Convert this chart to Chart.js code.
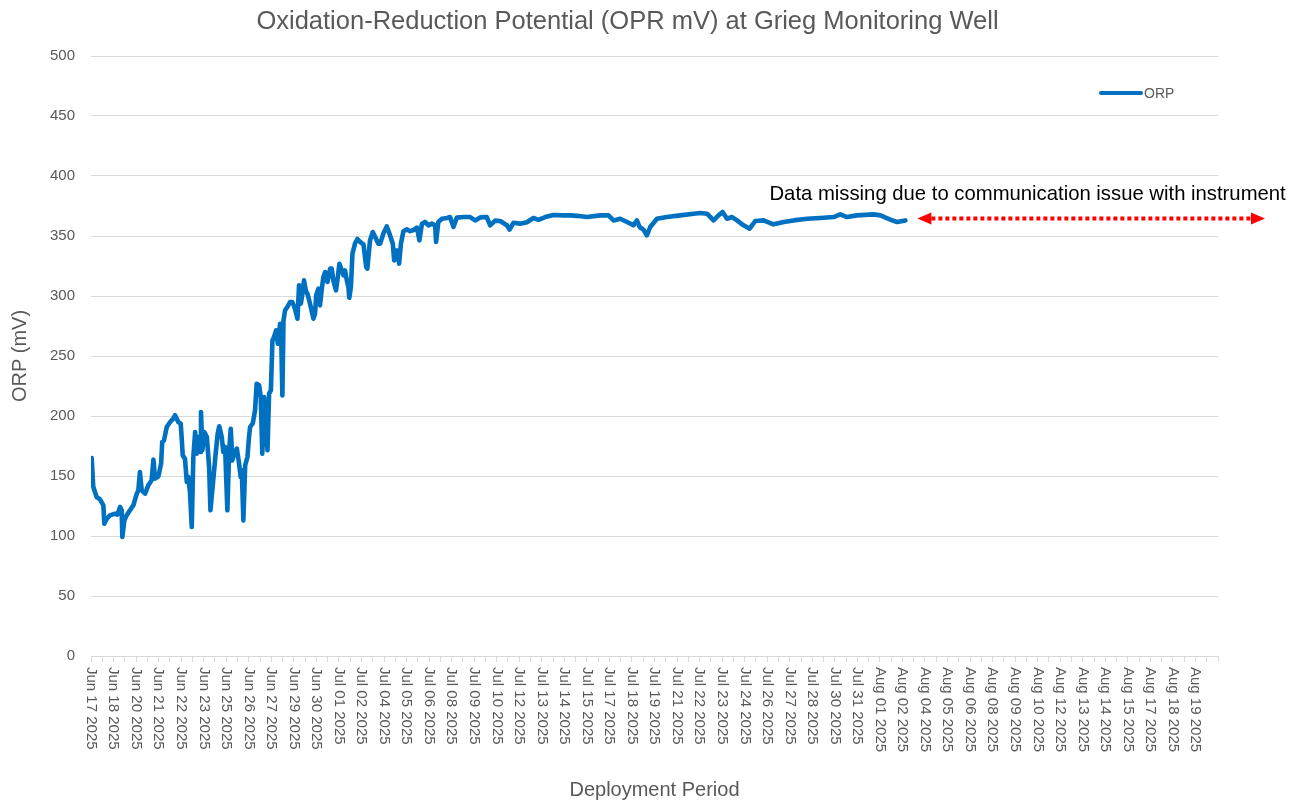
<!DOCTYPE html>
<html>
<head>
<meta charset="utf-8">
<script src="https://cdn.jsdelivr.net/npm/chart.js@4.4.1/dist/chart.umd.min.js"></script>
<style>
  html, body { margin: 0; padding: 0; background: #ffffff; }
  #wrap { width: 1299px; height: 804px; }
</style>
</head>
<body>
<div id="wrap"><canvas id="c" width="1299" height="804"></canvas></div>
<script>
// ---- Data ----
const chartTitle = 'Oxidation-Reduction Potential (OPR mV) at Grieg Monitoring Well';
const seriesName = 'ORP';
const yAxisTitle = 'ORP (mV)';
const xAxisTitle = 'Deployment Period';
const noteText = 'Data missing due to communication issue with instrument';

// category tick labels (one per major tick of the category axis)
const dateLabels = [
  'Jun 17 2025','Jun 18 2025','Jun 20 2025','Jun 21 2025','Jun 22 2025','Jun 23 2025',
  'Jun 25 2025','Jun 26 2025','Jun 27 2025','Jun 29 2025','Jun 30 2025','Jul 01 2025',
  'Jul 02 2025','Jul 04 2025','Jul 05 2025','Jul 06 2025','Jul 08 2025','Jul 09 2025',
  'Jul 10 2025','Jul 12 2025','Jul 13 2025','Jul 14 2025','Jul 15 2025','Jul 17 2025',
  'Jul 18 2025','Jul 19 2025','Jul 21 2025','Jul 22 2025','Jul 23 2025','Jul 24 2025',
  'Jul 26 2025','Jul 27 2025','Jul 28 2025','Jul 30 2025','Jul 31 2025','Aug 01 2025',
  'Aug 02 2025','Aug 04 2025','Aug 05 2025','Aug 06 2025','Aug 08 2025','Aug 09 2025',
  'Aug 10 2025','Aug 12 2025','Aug 13 2025','Aug 14 2025','Aug 15 2025','Aug 17 2025',
  'Aug 18 2025','Aug 19 2025'
];

// sample position along the category axis (1 unit = one labelled tick interval)
const samplePos = [
  0.03,0.10,0.25,0.40,0.55,0.59,0.70,0.84,1.07,1.17,1.29,1.36,1.39,1.48,1.58,1.73,1.88,2.03,2.10,2.17,
  2.25,2.40,2.54,2.69,2.77,2.84,2.99,3.11,3.16,3.24,3.36,3.51,3.65,3.73,3.87,3.98,4.03,4.07,4.17,4.25,
  4.32,4.39,4.47,4.54,4.62,4.69,4.76,4.84,4.88,4.94,5.03,5.14,5.24,5.30,5.43,5.53,5.62,5.69,5.80,5.87,
  5.95,6.05,6.13,6.20,6.27,6.36,6.47,6.57,6.64,6.69,6.76,6.84,6.94,7.01,7.06,7.18,7.28,7.35,7.46,7.53,
  7.60,7.68,7.75,7.83,7.90,7.98,8.05,8.12,8.21,8.29,8.39,8.43,8.49,8.54,8.61,8.71,8.83,8.93,9.05,9.16,
  9.23,9.31,9.38,9.45,9.53,9.60,9.68,9.75,9.87,9.94,9.99,10.09,10.16,10.24,10.31,10.39,10.49,10.61,10.68,10.75,
  10.87,10.95,11.02,11.10,11.20,11.27,11.35,11.42,11.46,11.53,11.60,11.72,11.82,11.94,12.09,12.21,12.26,12.38,12.50,12.61,
  12.75,12.83,12.97,13.12,13.24,13.39,13.45,13.57,13.67,13.75,13.86,14.01,14.16,14.31,14.46,14.57,14.68,14.82,14.97,15.12,
  15.27,15.31,15.41,15.57,15.79,15.93,16.08,16.23,16.52,16.82,17.04,17.27,17.56,17.71,17.93,18.15,18.45,18.57,18.74,19.04,
  19.34,19.63,19.85,20.15,20.52,20.96,21.26,21.56,22.00,22.59,22.96,23.18,23.48,23.78,24.07,24.22,24.34,24.51,24.66,24.81,
  25.11,25.55,26.14,26.73,27.03,27.33,27.62,27.84,28.02,28.22,28.44,28.66,28.95,29.22,29.47,29.84,30.28,30.73,31.17,31.77,
  32.36,32.95,33.24,33.54,33.98,34.72,35.02,35.46,35.76,36.13
];

// ORP readings (mV)
const orpValues = [
  165,141,132.5,130.5,125.6,110.3,114.4,117.2,118.6,117.8,124.2,121.4,99.2,113,117.2,121.4,125.6,135.3,138,153.3,
  138,135.3,142.2,146.4,163.6,147.8,149.7,160.3,178.3,179.7,190.8,195,197.8,200.6,195,193.6,179.7,167.2,164.4,145,
  149.2,136.7,107.5,165.8,186.7,168.6,182.5,170,203.3,171.4,186.7,182.5,157.5,121.4,147.8,168.6,185.3,191.4,182.5,170,
  174.2,121.4,171.4,189.4,163,168.6,172.8,160.3,149.2,154.7,113,158.9,165.8,182.5,190.8,194,205,226.9,225.6,215.8,
  168.6,215.8,193.6,171.4,218.6,221.4,263,265.8,271.4,260.3,276.9,274.2,217.2,279.7,288,290.8,295,295,289.4,281.1,
  308.9,293.6,301.9,313,304.7,301.9,296.4,290.8,281.1,285.3,300.6,306.1,292.2,306.1,315.8,320,311.7,322.8,322.8,313,
  304.7,315.8,326.9,322.8,317.2,321.4,313,307.5,298.5,307.5,335.3,344,347.5,345,343,324,322.8,346.4,353.3,349.2,
  343.6,343.6,352,358,352,343.6,329.7,338,327,343.6,354,355.5,354,355,357,346.4,360,361.7,358.9,360.3,
  358.9,345,361.7,364.4,365,365.8,357.5,365.3,365.8,365.8,363,365.5,365.8,358.9,362.8,362.5,359,355.3,361,360.3,
  361.5,365,363.5,365.8,367.5,367.2,367.2,366.8,365.8,367.2,367.2,363,364.4,361.7,358.9,363,357.5,355.3,350.6,357.5,
  364.4,365.8,367.2,368.6,369.2,368.6,363,367.2,370,364.4,365.8,363,358.9,356.1,362.5,363,359.7,361.7,363,364.4,
  365,365.8,368,365.8,367.2,368,367.2,363.6,361.7,363
];

const yTicks = { min: 0, max: 500, step: 50 };
const xRange = { min: 0, max: 50, minorStep: 0.5 };

// ---- Styles ----
const BLUE = '#0070C0';
const GREY_TEXT = '#595959';
const GRID = '#d9d9d9';
const FONT = "'Liberation Sans', Arial, sans-serif";

const points = samplePos.map((p, i) => ({ x: p, y: orpValues[i] }));

// draws the category labels rotated clockwise (reading top-to-bottom) under each major tick
const xLabelPlugin = {
  id: 'xLabels',
  afterDraw(chart) {
    const s = chart.scales.x;
    const ctx = chart.ctx;
    ctx.save();
    ctx.font = '15px ' + FONT;
    ctx.fillStyle = GREY_TEXT;
    ctx.textAlign = 'left';
    ctx.textBaseline = 'middle';
    dateLabels.forEach((lab, k) => {
      const px = s.getPixelForValue(k);
      ctx.save();
      ctx.translate(px, s.top + 11);
      ctx.rotate(Math.PI / 2);
      ctx.fillText(lab, 0, 0);
      ctx.restore();
    });
    ctx.restore();
  }
};

const legendNotePlugin = {
  id: 'legendNote',
  afterDraw(chart) {
    const ctx = chart.ctx;
    const a = chart.chartArea;
    const s = chart.scales.x;
    const ys = chart.scales.y;
    ctx.save();
    // legend
    const ly = a.top + 37;
    const lx = a.right - 117;
    ctx.strokeStyle = BLUE;
    ctx.lineWidth = 4;
    ctx.lineCap = 'round';
    ctx.beginPath();
    ctx.moveTo(lx, ly);
    ctx.lineTo(lx + 40, ly);
    ctx.stroke();
    ctx.font = '14px ' + FONT;
    ctx.fillStyle = GREY_TEXT;
    ctx.textAlign = 'left';
    ctx.textBaseline = 'middle';
    ctx.fillText(seriesName, lx + 43, ly + 1);

    // note text
    ctx.font = '20.3px ' + FONT;
    ctx.fillStyle = '#000000';
    ctx.fillText(noteText, s.getPixelForValue(30.1), ys.getPixelForValue(384.5));

    // red dotted double arrow
    const ay = ys.getPixelForValue(364.5);
    const x1 = s.getPixelForValue(samplePos[samplePos.length - 1]) + 12;
    const x2 = a.right + 47;
    const head = 14;
    ctx.strokeStyle = '#FF0000';
    ctx.fillStyle = '#FF0000';
    ctx.lineWidth = 4;
    ctx.lineCap = 'butt';
    ctx.setLineDash([4, 3]);
    ctx.beginPath();
    ctx.moveTo(x1 + head, ay);
    ctx.lineTo(x2 - head, ay);
    ctx.stroke();
    ctx.setLineDash([]);
    ctx.beginPath();
    ctx.moveTo(x1, ay);
    ctx.lineTo(x1 + head, ay - 6);
    ctx.lineTo(x1 + head, ay + 6);
    ctx.closePath();
    ctx.fill();
    ctx.beginPath();
    ctx.moveTo(x2, ay);
    ctx.lineTo(x2 - head, ay - 6);
    ctx.lineTo(x2 - head, ay + 6);
    ctx.closePath();
    ctx.fill();
    ctx.restore();
  }
};

new Chart(document.getElementById('c'), {
  type: 'line',
  data: {
    datasets: [{
      label: seriesName,
      data: points,
      borderColor: BLUE,
      backgroundColor: BLUE,
      borderWidth: 4.6,
      pointRadius: 0,
      tension: 0,
      borderJoinStyle: 'round',
      borderCapStyle: 'round',
      fill: false
    }]
  },
  options: {
    responsive: false,
    animation: false,
    devicePixelRatio: 1,
    layout: { padding: { left: 37, right: 81, top: 7, bottom: 2 } },
    plugins: {
      legend: { display: false },
      tooltip: { enabled: false },
      title: {
        display: true,
        text: chartTitle,
        color: GREY_TEXT,
        font: { family: FONT, size: 25.5, weight: 'normal' },
        padding: { top: 0, bottom: 18.4 }
      }
    },
    scales: {
      x: {
        type: 'linear',
        min: xRange.min,
        max: xRange.max,
        afterFit(s) { s.height = 146; },
        ticks: { display: false, stepSize: xRange.minorStep, autoSkip: false },
        grid: { display: true, drawOnChartArea: false, drawTicks: true, tickLength: 6, color: GRID, lineWidth: 1 },
        border: { display: true, color: GRID, width: 1 },
        title: {
          display: true,
          text: xAxisTitle,
          color: GREY_TEXT,
          font: { family: FONT, size: 20 },
          padding: { top: 0, bottom: 0 }
        }
      },
      y: {
        min: yTicks.min,
        max: yTicks.max,
        afterFit(s) { s.width = 54; },
        ticks: {
          stepSize: yTicks.step,
          color: GREY_TEXT,
          font: { family: FONT, size: 15 },
          padding: 16
        },
        grid: { color: GRID, lineWidth: 1, drawTicks: false },
        border: { display: false },
        title: {
          display: true,
          text: yAxisTitle,
          color: GREY_TEXT,
          font: { family: FONT, size: 20 },
          padding: { top: -29, bottom: 0 }
        }
      }
    }
  },
  plugins: [xLabelPlugin, legendNotePlugin]
});
</script>
</body>
</html>
